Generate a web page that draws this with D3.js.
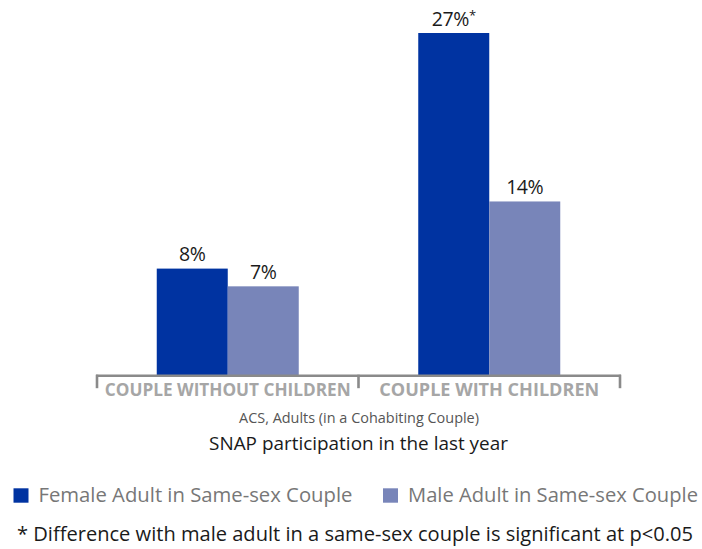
<!DOCTYPE html>
<html><head><meta charset="utf-8">
<script src="https://cdn.jsdelivr.net/npm/d3@7"></script>
<style>body{margin:0;background:#fff}svg{display:block}text{font-family:"Open Sans",Lato,sans-serif}</style>
</head><body><svg id="c" width="702" height="549"></svg>
<script>
const categories = ["COUPLE WITHOUT CHILDREN", "COUPLE WITH CHILDREN"];
const seriesNames = ["Female Adult in Same-sex Couple", "Male Adult in Same-sex Couple"];
const femaleValues = [8.4, 27.0];
const maleValues = [7.0, 13.7];
const femaleLabels = ["8%", "27%"];
const maleLabels = ["7%", "14%"];
const femaleMarks = ["", "*"];
const colors = ["#0033a1", "#7885b9"];

const svg = d3.select("#c");
// fit text to a target width by adjusting font size
function fit(sel, w){
  const n = sel.node(); const fs = +sel.attr("font-size");
  const cw = n.getComputedTextLength();
  if (cw > 0) sel.attr("font-size", (fs * w / cw).toFixed(2));
  return sel;
}
const x = d3.scaleBand().domain(categories).range([97, 620]).paddingInner(0).paddingOuter(0);
const sub = d3.scaleBand().domain([0,1]).range([0, 142]);
const y = d3.scaleLinear().domain([0, 27]).range([375, 33]);

const rows = categories.map((c,i)=>({c, vals:[femaleValues[i], maleValues[i]], labs:[femaleLabels[i], maleLabels[i]], mark:[femaleMarks[i], ""]}));

const g = svg.append("g");
rows.forEach(r=>{
  const x0 = x(r.c) + x.bandwidth()/2 - 71;
  r.vals.forEach((v,j)=>{
    g.append("rect").attr("x", x0 + sub(j)).attr("width", sub.bandwidth())
      .attr("y", y(v)).attr("height", y(0)-y(v)).attr("fill", colors[j]);
    const t = g.append("text").attr("x", x0 + sub(j) + sub.bandwidth()/2).attr("y", y(v)-7.5)
      .attr("text-anchor","middle").attr("font-size",19.5).attr("fill","#1a1a1a").attr("letter-spacing",-0.4).text(r.labs[j]);
    if (r.mark[j]) t.append("tspan").attr("font-size",13).attr("dy",-6).text(r.mark[j]);
  });
});

// axis
const axis = d3.axisBottom(x).tickSize(0).tickFormat("");
const ag = svg.append("g").attr("transform","translate(0,375.7)").call(axis);
ag.select(".domain").remove();
ag.append("line").attr("x1",96).attr("x2",621).attr("stroke","#8a8a8a").attr("stroke-width",2.6);
[97, x(categories[1]), 620].forEach(px=>{
  ag.append("line").attr("x1",px).attr("x2",px).attr("y1",-1).attr("y2",12.5).attr("stroke","#8a8a8a").attr("stroke-width",2.6);
});
const catW = [246, 220];
categories.forEach((c,i)=>{
  fit(svg.append("text").attr("x", x(c)+x.bandwidth()/2).attr("y",396).attr("text-anchor","middle")
    .attr("font-size",16).attr("font-weight","bold").attr("fill","#a6a6a6").text(c), catW[i]);
});

fit(svg.append("text").attr("x",359).attr("y",423).attr("text-anchor","middle").attr("font-size",14).attr("fill","#555").text("ACS, Adults (in a Cohabiting Couple)"), 240);
fit(svg.append("text").attr("x",358.5).attr("y",450).attr("text-anchor","middle").attr("font-size",19).attr("fill","#1a1a1a").text("SNAP participation in the last year"), 299);

// legend
const legX = [13.5, 383];
const legW = [314, 290];
seriesNames.forEach((s,i)=>{
  svg.append("rect").attr("x",legX[i]).attr("y",488.3).attr("width",15).attr("height",14.4).attr("fill",colors[i]);
  fit(svg.append("text").attr("x",legX[i]+25).attr("y",501.7).attr("font-size",18).attr("fill","#777").text(s), legW[i]);
});
fit(svg.append("text").attr("x",17).attr("y",541).attr("font-size",18).attr("fill","#1a1a1a").text("* Difference with male adult in a same-sex couple is significant at p<0.05"), 676);
</script></body></html>
